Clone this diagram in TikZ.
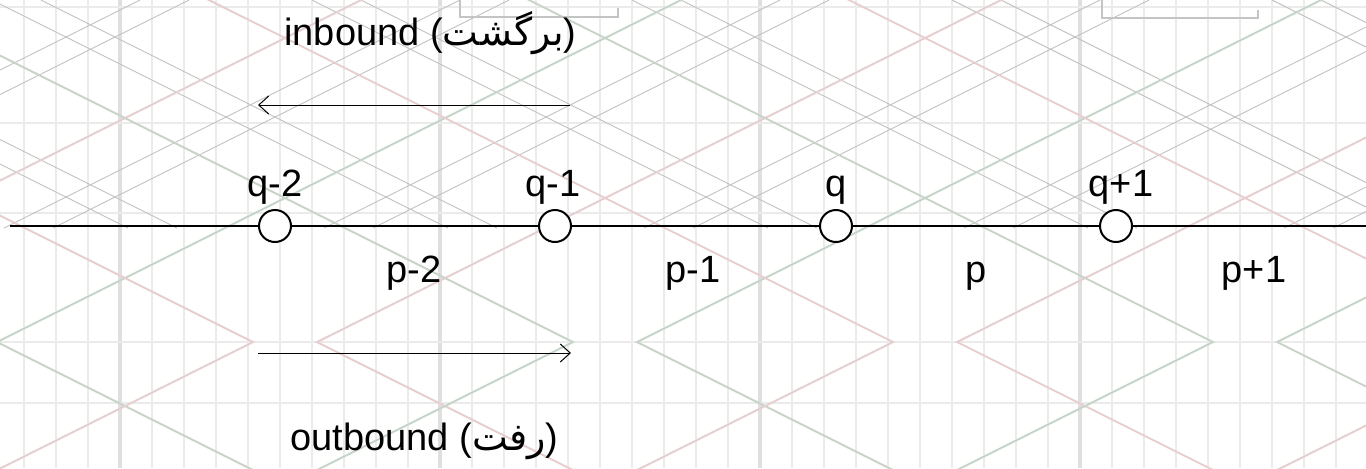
\documentclass[tikz,border=0pt]{standalone}
\usepackage{fontspec}
\setmainfont{Liberation Sans}
\newfontfamily\arabicfont[Script=Arabic]{DejaVu Sans}
\TeXXeTstate=1
\usetikzlibrary{arrows.meta,positioning}
\definecolor{gridthin}{HTML}{EBEBEB}
\definecolor{gridthick}{HTML}{DFDFDF}
\definecolor{diaggreen}{HTML}{C8D5C8}
\definecolor{diagpink}{HTML}{E8CFCF}
\definecolor{diaggray}{HTML}{C2C2C2}
\definecolor{bracketgray}{HTML}{C4C4C4}

\begin{document}
\begin{tikzpicture}[x=0.5pt, y=-0.5pt, font=\fontsize{19}{23}\selectfont,
  station/.style={draw, circle, fill=white, line width=1pt, minimum size=16pt, inner sep=0pt},
  lbl/.style={anchor=base, inner sep=0pt},
  dirlbl/.style={anchor=base west, inner sep=0pt},
  flow/.style={-{Straight Barb[length=5pt, width=9pt]}, line width=0.5pt},
  vthin/.style={gridthin, line width=1.3pt},
  vthick/.style={gridthick, line width=1.8pt},
  hgrid/.style={gridthin, line width=1.3pt},
  gline/.style={diaggray, line width=0.45pt},
  cline/.style={line width=1pt}]
\useasboundingbox (0,0) rectangle (1366,468);
\fill[white] (0,0) rectangle (1366,468);
\begin{scope}
\clip (0,0) rectangle (1366,468);
\foreach \x in {24,56,...,1368} \draw[vthin] (\x,0) -- (\x,468);
\foreach \x in {120,440,760,1080} \draw[vthick] (\x,0) -- (\x,468);
\foreach \y in {7,123,213,342,403} \draw[hgrid] (0,\y) -- (1366,\y);
\begin{scope}
\clip (0,0) rectangle (1366,228);
\foreach \s in {-328,-279,-8,41,312,361,632,681,952,1001,1272,1321}
  \draw[gline] (\s,0) -- ++(456,228);
\foreach \s in {140,189,460,509,780,829,1100,1149,1420,1469,1740,1789}
  \draw[gline] (\s,0) -- ++(-456,228);
\end{scope}
\foreach \c/\col in {-355/diagpink,-35/diaggreen,285/diagpink,605/diaggreen,925/diagpink,1245/diaggreen,1565/diagpink} {
  \draw[cline, \col] ({\c-732},-8) -- ({\c-32},342) -- ({\c-732},692);
  \draw[cline, \col] ({\c+732},-8) -- ({\c+32},342) -- ({\c+732},692);
}
\draw[bracketgray, line width=1pt] (460,0) -- (460,17) -- (618,17) -- (618,8);
\draw[bracketgray, line width=1pt] (1102,0) -- (1102,18) -- (1258,18) -- (1258,10);
\end{scope}

\node[station] (qm2) at (275,226) {};
\node[station] (qm1) at (555,226) {};
\node[station] (q0) at (836,226) {};
\node[station] (qp1) at (1116,226) {};
\coordinate (west) at (10,226);
\coordinate (east) at (1366,226);
\draw[line width=1pt] (west) -- (qm2) -- (qm1) -- (q0) -- (qp1) -- (east);

\node[lbl] (lqm2) at (275,196) {q-2};
\node[lbl] (lqm1) at (553,196) {q-1};
\node[lbl] (lq0) at (836,196) {q};
\node[lbl] (lqp1) at (1121,196) {q+1};
\node[lbl] (lpm2) at (414,282) {p-2};
\node[lbl] (lpm1) at (693,282) {p-1};
\node[lbl] (lp0) at (976,282) {p};
\node[lbl] (lpp1) at (1254,282) {p+1};

\node[dirlbl] (inlbl) at (284,45) {inbound ({\arabicfont\beginR برگشت\endR})};
\coordinate (inS) at (570,105);
\coordinate (inE) at (258,105);
\draw[flow] (inS) -- (inE);

\coordinate (outS) at (258,353);
\coordinate (outE) at (571,353);
\draw[flow] (outS) -- (outE);
\node[dirlbl] (outlbl) at (290,450) {outbound ({\arabicfont\beginR رفت\endR})};
\end{tikzpicture}
\end{document}
